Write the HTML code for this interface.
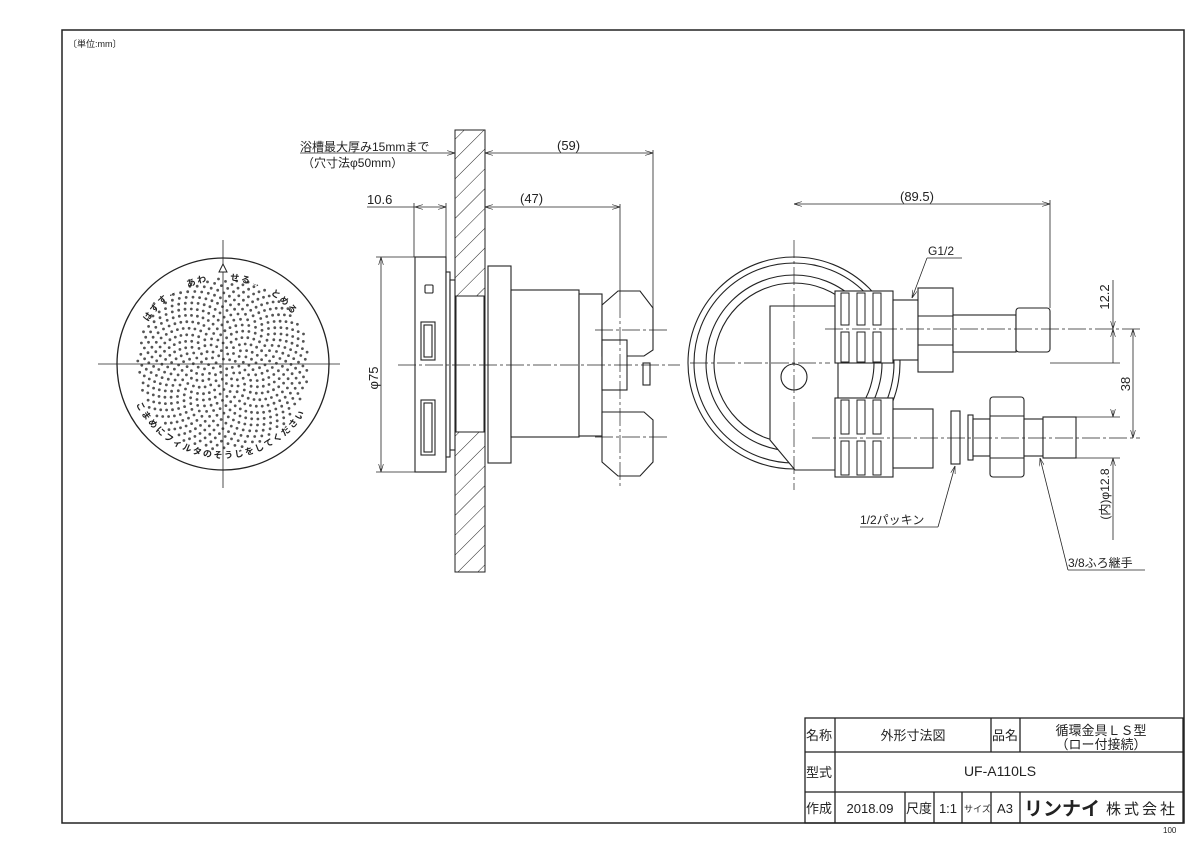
<!DOCTYPE html>
<html><head><meta charset="utf-8"><style>
html,body{margin:0;padding:0;background:#fff}
svg{display:block}
text{font-family:"Liberation Sans","Noto Sans CJK JP",sans-serif;fill:#222}
</style></head><body>
<svg id="s" width="1200" height="849" viewBox="0 0 1200 849" xmlns="http://www.w3.org/2000/svg">
<defs>
<pattern id="hatch" patternUnits="userSpaceOnUse" width="14" height="14" patternTransform="rotate(45)">
<line x1="0" y1="0" x2="0" y2="14" stroke="#222" stroke-width="1"/>
</pattern>
<marker id="a" markerWidth="10" markerHeight="6" refX="10" refY="3" orient="auto-start-reverse"><path d="M0,0 L10,3 L0,6" fill="none" stroke="#222" stroke-width="0.8"/></marker>
<path id="topArc" d="M148,322 A88,88 0 0 1 298,322"/>
<path id="botArc" d="M136,404 A97,97 0 0 0 310,404"/>
</defs>
<g fill="none" stroke="#222" stroke-width="1">
<rect x="62" y="30" width="1122" height="793" stroke-width="1.5"/>
</g>
<text x="68" y="47" font-size="9">〔単位:mm〕</text>

<!-- left circle -->
<g id="dots" fill="#555"></g>
<circle cx="223" cy="364" r="106" fill="none" stroke="#222" stroke-width="1.3"/>
<g stroke="#222" stroke-width="0.8">
<line x1="98" y1="364" x2="340" y2="364"/>
<line x1="223" y1="240" x2="223" y2="488"/>
</g>
<path d="M219,272 L223,264 L227,272 Z" fill="#fff" stroke="#222"/>
<text font-size="9" font-weight="bold"><textPath href="#topArc" textLength="170" lengthAdjust="spacing">はずす←　あわ　　せる→　とめる</textPath></text>
<text font-size="9" font-weight="bold"><textPath href="#botArc" textLength="205" lengthAdjust="spacing">こまめにフィルタのそうじをしてください</textPath></text>

<!-- wall -->
<rect x="455" y="130" width="30" height="442" fill="url(#hatch)" stroke="#222"/>
<rect x="456" y="296" width="28" height="136" fill="#fff" stroke="#222"/>
<!-- front plate -->
<g fill="#fff" stroke="#222" stroke-width="1.1">
<rect x="415" y="257" width="31" height="215"/>
<rect x="446" y="272" width="4" height="185"/>
<rect x="450" y="280" width="5" height="170"/>
<rect x="425" y="285" width="8" height="8" rx="1"/>
<rect x="421" y="322" width="14" height="38"/>
<rect x="424" y="325" width="8" height="32"/>
<rect x="421" y="400" width="14" height="55"/>
<rect x="424" y="403" width="8" height="49"/>
<rect x="488" y="266" width="23" height="197"/>
<rect x="511" y="290" width="68" height="147"/>
<rect x="579" y="294" width="23" height="142"/>
<path d="M602,305 L618,291 L640,291 L653,308 L653,350 L644,356 L602,356 Z"/>
<path d="M602,412 L644,412 L653,420 L653,462 L640,476 L618,476 L602,462 Z"/>
<rect x="602" y="340" width="25" height="50"/>
<rect x="643" y="363" width="7" height="22"/>
</g>
<g stroke="#222" stroke-width="0.7" stroke-dasharray="18,3,3,3">
<line x1="398" y1="365" x2="680" y2="365"/>
<line x1="595" y1="330" x2="668" y2="330"/>
<line x1="595" y1="437" x2="668" y2="437"/>
<line x1="620" y1="300" x2="620" y2="488"/>
</g>
<!-- dims middle -->
<g stroke="#222" stroke-width="0.8" fill="none">
<line x1="485" y1="153" x2="653" y2="153" marker-start="url(#a)" marker-end="url(#a)"/>
<line x1="653" y1="150" x2="653" y2="310"/>
<line x1="485" y1="207" x2="620" y2="207" marker-start="url(#a)" marker-end="url(#a)"/>
<line x1="620" y1="204" x2="620" y2="300"/>
<line x1="415" y1="207" x2="446" y2="207" marker-start="url(#a)" marker-end="url(#a)"/>
<line x1="367" y1="207" x2="415" y2="207"/>
<line x1="414" y1="203" x2="414" y2="257"/>
<line x1="446" y1="203" x2="446" y2="272"/>
<line x1="381" y1="257" x2="381" y2="472" marker-start="url(#a)" marker-end="url(#a)"/>
<line x1="376" y1="257" x2="415" y2="257"/>
<line x1="376" y1="472" x2="415" y2="472"/>
<line x1="300" y1="153" x2="455" y2="153" marker-end="url(#a)"/>
</g>
<text x="300" y="151" font-size="12">浴槽最大厚み15mmまで</text>
<text x="302" y="167" font-size="12">（穴寸法φ50mm）</text>
<text x="557" y="150" font-size="13">(59)</text>
<text x="520" y="203" font-size="13">(47)</text>
<text x="367" y="204" font-size="13">10.6</text>
<text transform="translate(378,378) rotate(-90)" font-size="13" text-anchor="middle">φ75</text>

<!-- right view -->
<g fill="none" stroke="#222" stroke-width="1.1">
<circle cx="794" cy="363" r="106"/>
<circle cx="794" cy="363" r="100"/>
<circle cx="794" cy="363" r="88"/>
<circle cx="794" cy="363" r="80"/>
</g>
<g fill="#fff" stroke="#222" stroke-width="1.1">
<path d="M770,306 L838,306 L838,470 L795,470 L770,440 Z"/>
<circle cx="794" cy="377" r="13"/>
<rect x="835" y="291" width="58" height="72"/>
<rect x="835" y="398" width="58" height="79"/>
<rect x="893" y="300" width="25" height="60"/>
<rect x="918" y="288" width="35" height="84"/>
<rect x="953" y="315" width="63" height="37"/>
<rect x="1016" y="308" width="34" height="44" rx="3"/>
<rect x="893" y="409" width="40" height="59"/>
<rect x="951" y="411" width="9" height="53"/>
<rect x="968" y="415" width="5" height="45"/>
<rect x="973" y="419" width="17" height="37"/>
<rect x="990" y="397" width="34" height="80" rx="3"/>
<rect x="1024" y="419" width="19" height="37"/>
<rect x="1043" y="417" width="33" height="41"/>
</g>
<g fill="none" stroke="#222" stroke-width="1">
<line x1="918" y1="316" x2="953" y2="316"/><line x1="918" y1="345" x2="953" y2="345"/>
<line x1="990" y1="416" x2="1024" y2="416"/><line x1="990" y1="458" x2="1024" y2="458"/>
</g>
<g fill="#fff" stroke="#222" stroke-width="1">
<rect x="841" y="293" width="8" height="32"/><rect x="857" y="293" width="8" height="32"/><rect x="873" y="293" width="8" height="32"/>
<rect x="841" y="332" width="8" height="30"/><rect x="857" y="332" width="8" height="30"/><rect x="873" y="332" width="8" height="30"/>
<rect x="841" y="400" width="8" height="34"/><rect x="857" y="400" width="8" height="34"/><rect x="873" y="400" width="8" height="34"/>
<rect x="841" y="441" width="8" height="34"/><rect x="857" y="441" width="8" height="34"/><rect x="873" y="441" width="8" height="34"/>
</g>
<g stroke="#222" stroke-width="0.7" stroke-dasharray="18,3,3,3">
<line x1="690" y1="363" x2="830" y2="363"/>
<line x1="794" y1="240" x2="794" y2="490"/>
<line x1="825" y1="329" x2="1140" y2="329"/>
<line x1="812" y1="438" x2="1140" y2="438"/>
</g>
<g stroke="#222" stroke-width="0.8" fill="none">
<line x1="794" y1="204" x2="1050" y2="204" marker-start="url(#a)" marker-end="url(#a)"/>
<line x1="1050" y1="200" x2="1050" y2="308"/>
<line x1="1113" y1="280" x2="1113" y2="329" marker-end="url(#a)"/>
<line x1="1113" y1="363" x2="1113" y2="329" marker-end="url(#a)"/>
<line x1="1133" y1="329" x2="1133" y2="438" marker-start="url(#a)" marker-end="url(#a)"/>
<line x1="1113" y1="410" x2="1113" y2="417" marker-end="url(#a)"/>
<line x1="1113" y1="540" x2="1113" y2="458" marker-end="url(#a)"/>
<line x1="1076" y1="417" x2="1120" y2="417"/>
<line x1="1076" y1="458" x2="1120" y2="458"/>
<line x1="1050" y1="363" x2="1120" y2="363"/>
<line x1="927" y1="258" x2="962" y2="258"/>
<line x1="927" y1="258" x2="912" y2="298" marker-end="url(#a)"/>
<line x1="860" y1="527" x2="938" y2="527"/>
<line x1="938" y1="527" x2="955" y2="466" marker-end="url(#a)"/>
<line x1="1068" y1="570" x2="1145" y2="570"/>
<line x1="1068" y1="570" x2="1040" y2="458" marker-end="url(#a)"/>
</g>
<text x="900" y="201" font-size="13">(89.5)</text>
<text x="928" y="255" font-size="12">G1/2</text>
<text x="860" y="524" font-size="12">1/2パッキン</text>
<text x="1068" y="567" font-size="12">3/8ふろ継手</text>
<text transform="translate(1109,297) rotate(-90)" font-size="13" text-anchor="middle">12.2</text>
<text transform="translate(1130,384) rotate(-90)" font-size="13" text-anchor="middle">38</text>
<text transform="translate(1109,494) rotate(-90)" font-size="12" text-anchor="middle">(内)φ12.8</text>

<!-- title block -->
<g fill="none" stroke="#222" stroke-width="1.3">
<rect x="805" y="718" width="378" height="105"/>
<line x1="805" y1="752" x2="1183" y2="752"/>
<line x1="805" y1="792" x2="1183" y2="792"/>
<line x1="835" y1="718" x2="835" y2="823"/>
<line x1="991" y1="718" x2="991" y2="752"/>
<line x1="1020" y1="718" x2="1020" y2="752"/>
<line x1="905" y1="792" x2="905" y2="823"/>
<line x1="934" y1="792" x2="934" y2="823"/>
<line x1="962" y1="792" x2="962" y2="823"/>
<line x1="991" y1="792" x2="991" y2="823"/>
<line x1="1020" y1="792" x2="1020" y2="823"/>
</g>
<g font-size="13">
<text x="806" y="740">名称</text>
<text x="913" y="740" text-anchor="middle">外形寸法図</text>
<text x="992" y="740">品名</text>
<text x="1101" y="735" text-anchor="middle">循環金具ＬＳ型</text>
<text x="1101" y="749" text-anchor="middle">（ロー付接続）</text>
<text x="806" y="777">型式</text>
<text x="1000" y="776" text-anchor="middle" font-size="14">UF-A110LS</text>
<text x="806" y="813">作成</text>
<text x="870" y="813" text-anchor="middle">2018.09</text>
<text x="906" y="813">尺度</text>
<text x="948" y="813" text-anchor="middle">1:1</text>
<text x="964" y="812" font-size="9">サイズ</text>
<text x="1005" y="813" text-anchor="middle">A3</text>
<text x="1024" y="815" font-size="19" font-weight="bold">リンナイ</text>
<text x="1106" y="814" font-size="15" letter-spacing="3">株式会社</text>
</g>
<text x="1163" y="833" font-size="8" fill="#888">100</text>
</svg>
<script>
var g=document.getElementById('dots'),h='';
for(var i=1;i<1100;i++){var r=3.5*Math.sqrt(i),t=i*2.39996;if(r>86)break;
var x=223+r*Math.cos(t),y=364+r*Math.sin(t);h+='<circle cx="'+x.toFixed(1)+'" cy="'+y.toFixed(1)+'" r="1.4"/>';}
g.innerHTML=h;
</script>
</body></html>
